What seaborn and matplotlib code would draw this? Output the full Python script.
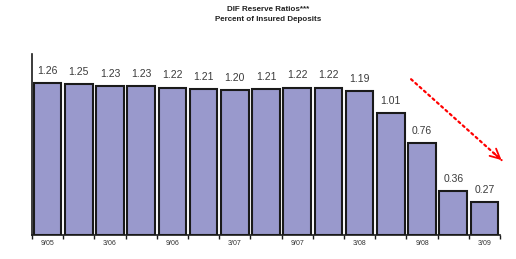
from __future__ import annotations

import matplotlib

matplotlib.use("Agg")
import matplotlib.pyplot as plt
import pandas as pd
import seaborn as sns


PERIODS = [
    "9/05", "12/05", "3/06", "6/06", "9/06", "12/06", "3/07", "6/07",
    "9/07", "12/07", "3/08", "6/08", "9/08", "12/08", "3/09",
]
RATIOS = [1.26, 1.25, 1.23, 1.23, 1.22, 1.21, 1.20, 1.21, 1.22, 1.22, 1.19, 1.01, 0.76, 0.36, 0.27]
TITLE = "DIF Reserve Ratios***\nPercent of Insured Deposits"

BAR_COLOR = "#9999cc"


def plot_reserve_ratios(out_path: str) -> None:
    data = pd.DataFrame({"period": PERIODS, "ratio": RATIOS})

    sns.set_style("white")
    plt.rcParams["font.family"] = ["Liberation Sans", "DejaVu Sans"]

    fig = plt.figure(figsize=(5.16, 2.59), dpi=100)
    ax = fig.add_axes([0.062, 0.093, 0.907, 0.699])
    sns.barplot(
        data=data,
        x="period",
        y="ratio",
        order=PERIODS,
        color=BAR_COLOR,
        saturation=1,
        width=0.88,
        edgecolor="#1a1a1a",
        linewidth=1.5,
        ax=ax,
    )
    for i, v in enumerate(RATIOS):
        ax.text(i, v + 0.06, f"{v:.2f}", ha="center", va="bottom", fontsize=7.5, color="#3a3a3a")

    ax.set_xlim(-0.5, len(PERIODS) - 0.5)
    ax.set_ylim(0, 1.5)
    ax.set_yticks([])
    ax.set_xticks([i - 0.5 for i in range(len(PERIODS) + 1)], minor=True)
    ax.set_xticks(range(0, len(PERIODS), 2))
    ax.set_xticklabels(PERIODS[::2], fontsize=5, color="#333333")
    ax.tick_params(axis="x", which="major", length=0, pad=4)
    ax.tick_params(axis="x", which="minor", length=3, width=1, color="#1a1a1a", bottom=True)
    ax.set_xlabel("")
    ax.set_ylabel("")
    for side in ["top", "right"]:
        ax.spines[side].set_visible(False)
    for side in ["left", "bottom"]:
        ax.spines[side].set_color("#1a1a1a")
        ax.spines[side].set_linewidth(1.2)

    # dotted trend line with a solid open arrowhead
    start = (11.65, 1.29)
    end = (14.55, 0.62)
    ax.annotate(
        "",
        xy=end,
        xytext=start,
        annotation_clip=False,
        arrowprops=dict(arrowstyle="-", color="red", linestyle=(0, (1, 1.6)),
                        linewidth=1.6, shrinkA=0, shrinkB=0),
    )
    back = (end[0] - 0.25, end[1] + 0.058)
    ax.annotate(
        "",
        xy=end,
        xytext=back,
        annotation_clip=False,
        arrowprops=dict(arrowstyle="->,head_length=0.7,head_width=0.35", color="red",
                        linewidth=1.3, shrinkA=0, shrinkB=0),
    )

    fig.text(0.52, 0.975, TITLE, ha="center", va="top", fontsize=5.8,
             fontweight="bold", linespacing=1.6, color="#222222")
    fig.savefig(out_path, dpi=100)
    plt.close(fig)


def main() -> None:
    plot_reserve_ratios("out.png")


if __name__ == "__main__":
    main()
